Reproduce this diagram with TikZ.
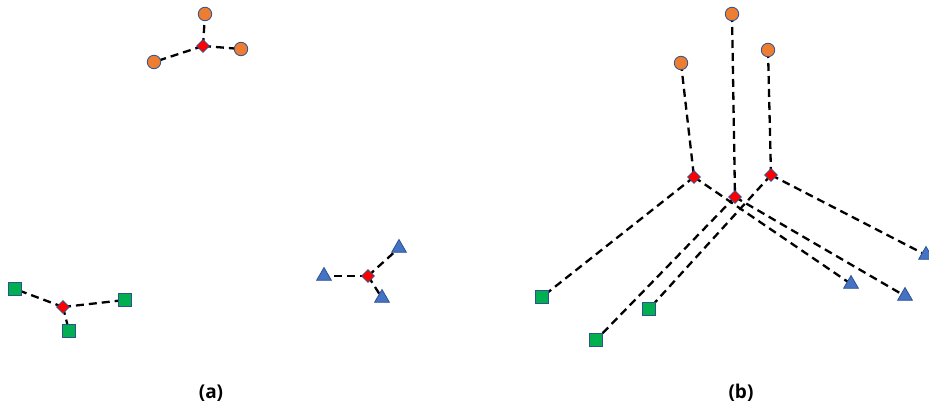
\documentclass[tikz,border=0pt]{standalone}
\usepackage{fontspec}
\setmainfont{Open Sans}
\usetikzlibrary{shapes.geometric}
\definecolor{orng}{HTML}{ED7D31}
\definecolor{grn}{HTML}{00B050}
\definecolor{blu}{HTML}{4472C4}
\definecolor{edge}{HTML}{2F528F}
\tikzset{
  circ/.style={circle,fill=orng,draw=edge,line width=0.8pt,minimum size=13.5pt,inner sep=0pt},
  sq/.style={rectangle,fill=grn,draw=edge,line width=0.8pt,minimum size=13.5pt,inner sep=0pt},
  tri/.style={regular polygon,regular polygon sides=3,fill=blu,draw=edge,line width=0.8pt,minimum size=17pt,inner sep=0pt},
  dia/.style={diamond,fill=red,draw=edge,line width=0.6pt,minimum size=13pt,inner sep=0pt},
  link/.style={dashed,dash pattern=on 8pt off 5pt,line width=2.3pt,black},
  lbl/.style={font=\fontsize{19}{22}\selectfont\bfseries,inner sep=0pt}
}
\begin{document}
\begin{tikzpicture}[x=1pt,y=-1pt]
\useasboundingbox (0,0) rectangle (929,404);
\clip (0,0) rectangle (929,404);
% panel (a) coordinates
\coordinate (oa0) at (203,46);
\coordinate (oa1) at (205,14);
\coordinate (oa2) at (241,49);
\coordinate (oa3) at (154,62);
\coordinate (ga0) at (63,307);
\coordinate (ga1) at (15,289);
\coordinate (ga2) at (125,300);
\coordinate (ga3) at (69,331);
\coordinate (ba0) at (368,276);
\coordinate (ba1) at (324,276);
\coordinate (ba2) at (399,248);
\coordinate (ba3) at (382,298);
% panel (b)
\coordinate (c1) at (681,63);
\coordinate (c2) at (732,14);
\coordinate (c3) at (768,50);
\coordinate (d1) at (694,177);
\coordinate (d2) at (735,197);
\coordinate (d3) at (771,175);
\coordinate (s1) at (542,297);
\coordinate (s2) at (596,340);
\coordinate (s3) at (649,309);
\coordinate (t1) at (851,284);
\coordinate (t2) at (905,296);
\coordinate (t3) at (926,255);
% connectors
\draw[link] (oa0) -- (oa1);
\draw[link] (oa0) -- (oa2);
\draw[link] (oa0) -- (oa3);
\draw[link] (ga0) -- (ga1);
\draw[link] (ga0) -- (ga2);
\draw[link] (ga0) -- (ga3);
\draw[link] (ba0) -- (ba1);
\draw[link] (ba0) -- (ba2);
\draw[link] (ba0) -- (ba3);
\draw[link] (c1) -- (d1);
\draw[link] (c2) -- (d2);
\draw[link] (c3) -- (d3);
\draw[link] (d1) -- (s1);
\draw[link] (d2) -- (s2);
\draw[link] (d3) -- (s3);
\draw[link] (d1) -- (t1);
\draw[link] (d2) -- (t2);
\draw[link] (d3) -- (t3);
% nodes
\node[circ] (noa1) at (oa1) {};
\node[circ] (noa2) at (oa2) {};
\node[circ] (noa3) at (oa3) {};
\node[dia] (noa0) at (oa0) {};
\node[sq] (nga1) at (ga1) {};
\node[sq] (nga2) at (ga2) {};
\node[sq] (nga3) at (ga3) {};
\node[dia] (nga0) at (ga0) {};
\node[tri] (nba1) at (ba1) {};
\node[tri] (nba2) at (ba2) {};
\node[tri] (nba3) at (ba3) {};
\node[dia] (nba0) at (ba0) {};
\node[circ] (nc1) at (c1) {};
\node[circ] (nc2) at (c2) {};
\node[circ] (nc3) at (c3) {};
\node[dia] (nd1) at (d1) {};
\node[dia] (nd2) at (d2) {};
\node[dia] (nd3) at (d3) {};
\node[sq] (ns1) at (s1) {};
\node[sq] (ns2) at (s2) {};
\node[sq] (ns3) at (s3) {};
\node[tri] (nt1) at (t1) {};
\node[tri] (nt2) at (t2) {};
\node[tri] (nt3) at (t3) {};
\node[lbl] (la) at (211,393) {(a)};
\node[lbl] (lb) at (741,393) {(b)};
\end{tikzpicture}
\end{document}
